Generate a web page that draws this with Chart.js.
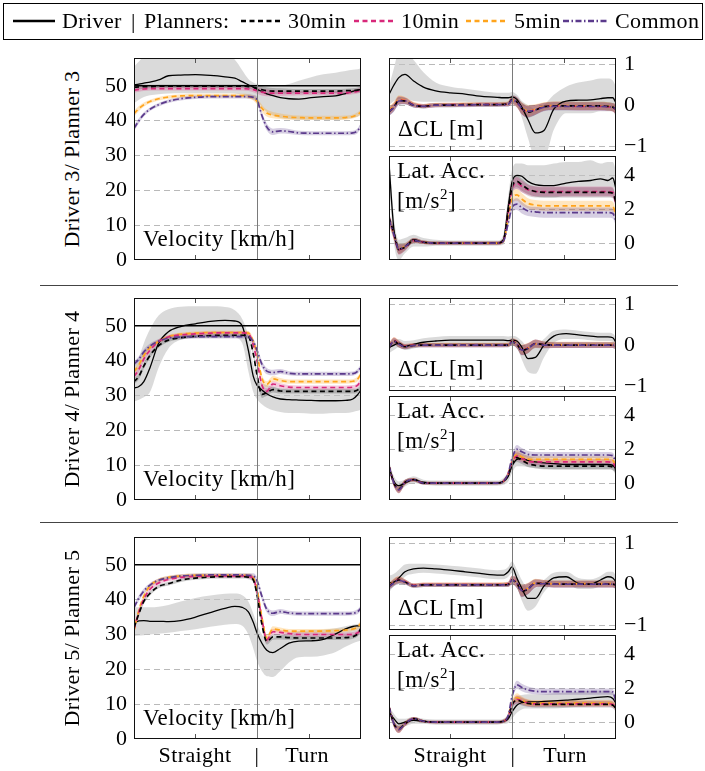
<!DOCTYPE html>
<html>
<head>
<meta charset="utf-8">
<script src="https://cdn.jsdelivr.net/npm/chart.js@4"></script>
<style>
body{margin:0;background:#fff;width:705px;height:771px;position:relative;overflow:hidden;font-family:'Liberation Serif','DejaVu Serif','Times New Roman',serif;color:#000}
canvas{position:absolute}
.t{position:absolute;font-size:22px;line-height:22px;white-space:nowrap;letter-spacing:0.4px}
.big{font-size:23px;letter-spacing:0.5px}
.c{text-align:center;width:120px}
.rot{position:absolute;width:240px;height:26px;line-height:26px;font-size:22px;text-align:center;transform:rotate(-90deg);white-space:nowrap;letter-spacing:0.4px}
.sep{position:absolute;left:40px;width:638px;height:1px;background:#444}
#legend{position:absolute;left:3px;top:3px;width:700px;height:37px;border:1px solid #000;box-sizing:border-box}
svg{position:absolute;overflow:visible}
</style>
</head>
<body>
<div id="legend"></div>
<div id="root"></div>
<script>
// sample positions along the route: 0..1 straight, 1..1.846 turn
const xPos = [0, 0.04, 0.08, 0.13, 0.2, 0.28, 0.38, 0.5, 0.62, 0.74, 0.82, 0.88, 0.93, 0.97, 1.0, 1.04, 1.08, 1.13, 1.19, 1.26, 1.34, 1.44, 1.54, 1.64, 1.72, 1.78, 1.82, 1.846];
const xMax = 1.846;
const xSplit = 1;
const xTicks = [0.5, 1.42];
const sectionLabels = ['Straight', '|', 'Turn'];
const rowLabels = ['Driver 3/ Planner 3', 'Driver 4/ Planner 4', 'Driver 5/ Planner 5'];
const seriesNames = ['Driver', '30min', '10min', '5min', 'Common'];
const velTicks = [0, 10, 20, 30, 40, 50];
const clTicks = [-1, 0, 1];
const latTicks = [0, 2, 4];
const speedLimit = [50, 50];

// Driver 3 / Planner 3
const v3Driver = [50.3, 50.5, 50.8, 51.1, 51.7, 52.9, 53.1, 53.2, 53.0, 52.6, 52.2, 51.2, 50.3, 49.6, 49.0, 48.4, 47.7, 47.2, 46.6, 46.3, 46.2, 46.6, 46.9, 47.1, 47.8, 48.4, 48.8, 49.0];
const v3DrvHi = [55.5, 57.0, 58.5, 59.0, 59.0, 59.0, 59.0, 59.0, 59.0, 59.0, 57.5, 54.5, 52.0, 51.0, 50.5, 50.2, 50.0, 50.0, 50.0, 50.5, 51.5, 52.5, 53.3, 53.8, 54.3, 54.6, 54.8, 55.0];
const v3DrvLo = [45.0, 46.0, 46.8, 47.3, 47.6, 47.8, 47.9, 47.9, 47.9, 47.9, 47.8, 47.5, 47.0, 46.5, 45.5, 44.0, 42.5, 41.5, 40.8, 40.5, 40.3, 40.3, 40.3, 40.3, 40.5, 40.8, 41.2, 41.8];
const v3Min30 = [49.6, 49.7, 49.8, 49.8, 49.9, 49.9, 49.9, 49.9, 49.9, 49.9, 49.9, 49.9, 49.8, 49.6, 49.3, 48.9, 48.6, 48.5, 48.5, 48.5, 48.5, 48.5, 48.5, 48.5, 48.6, 48.7, 48.8, 49.0];
const v3Min10 = [48.8, 49.0, 49.1, 49.2, 49.2, 49.2, 49.2, 49.2, 49.2, 49.2, 49.2, 49.2, 49.1, 48.9, 48.6, 48.2, 48.0, 47.9, 47.9, 47.9, 47.9, 47.9, 47.9, 47.9, 48.0, 48.2, 48.5, 48.8];
const v3Min5 = [42.0, 43.5, 44.6, 45.5, 46.3, 46.8, 47.1, 47.2, 47.2, 47.2, 47.2, 47.2, 47.0, 46.5, 45.6, 43.6, 42.2, 41.6, 41.3, 41.0, 40.9, 40.8, 40.8, 40.8, 40.9, 41.2, 41.8, 42.5];
const v3Common = [37.8, 40.0, 41.8, 43.3, 44.6, 45.6, 46.3, 46.7, 46.9, 46.9, 46.9, 46.9, 46.9, 46.7, 46.0, 41.5, 38.2, 36.8, 37.1, 36.9, 36.5, 36.4, 36.4, 36.4, 36.4, 36.5, 37.2, 38.6];
const v3Band = [0.8, 0.7, 0.6, 0.5, 0.5, 0.5, 0.5, 0.5, 0.5, 0.5, 0.5, 0.5, 0.6, 0.7, 0.9, 1.0, 1.0, 0.9, 0.8, 0.7, 0.6, 0.6, 0.6, 0.6, 0.6, 0.6, 0.7, 0.8];

const c3Driver = [0.26, 0.49, 0.67, 0.75, 0.59, 0.44, 0.35, 0.30, 0.27, 0.22, 0.20, 0.19, 0.18, 0.18, 0.20, 0.14, -0.05, -0.35, -0.68, -0.62, -0.10, 0.10, 0.12, 0.13, 0.16, 0.18, 0.18, 0.05];
const c3DrvHi = [0.45, 0.90, 1.30, 1.30, 1.10, 0.80, 0.55, 0.45, 0.40, 0.35, 0.32, 0.30, 0.30, 0.30, 0.32, 0.25, 0.10, 0.00, -0.10, 0.00, 0.25, 0.45, 0.55, 0.60, 0.65, 0.65, 0.60, 0.45];
const c3DrvLo = [0.00, 0.10, 0.15, 0.15, 0.10, 0.08, 0.08, 0.08, 0.08, 0.06, 0.06, 0.05, 0.05, 0.05, 0.08, 0.00, -0.30, -0.80, -1.30, -1.30, -0.60, -0.20, -0.20, -0.20, -0.15, -0.15, -0.15, -0.30];
const c3Min30 = [-0.17, -0.05, 0.11, 0.10, 0.00, -0.03, 0.00, 0.00, 0.01, 0.01, 0.01, 0.01, 0.02, 0.03, 0.14, 0.08, -0.08, -0.17, -0.12, -0.04, -0.02, -0.02, -0.02, -0.02, -0.02, -0.03, -0.05, -0.10];
const c3Min10 = [-0.15, -0.04, 0.12, 0.11, 0.01, -0.02, 0.00, 0.01, 0.01, 0.02, 0.02, 0.02, 0.02, 0.03, 0.13, 0.07, -0.09, -0.16, -0.11, -0.04, -0.02, -0.02, -0.03, -0.03, -0.03, -0.04, -0.06, -0.11];
const c3Min5 = [-0.13, -0.02, 0.14, 0.12, 0.02, -0.02, 0.01, 0.01, 0.02, 0.02, 0.02, 0.02, 0.03, 0.04, 0.12, 0.06, -0.07, -0.14, -0.10, -0.03, -0.01, -0.01, -0.02, -0.02, -0.02, -0.03, -0.05, -0.09];
const c3Common = [-0.16, -0.06, 0.10, 0.10, 0.00, -0.03, 0.00, 0.00, 0.00, 0.01, 0.01, 0.01, 0.01, 0.02, 0.12, 0.07, -0.08, -0.15, -0.12, -0.05, -0.03, -0.03, -0.03, -0.03, -0.03, -0.04, -0.05, -0.10];
const c3Band = [0.10, 0.10, 0.10, 0.08, 0.06, 0.05, 0.05, 0.05, 0.05, 0.05, 0.05, 0.05, 0.05, 0.06, 0.10, 0.12, 0.14, 0.14, 0.12, 0.10, 0.10, 0.10, 0.10, 0.10, 0.10, 0.10, 0.10, 0.12];

const l3Driver = [4.7, 0.8, -0.4, -0.2, 0.2, 0.05, 0.0, 0.0, 0.0, 0.0, 0.0, 0.0, 0.2, 2.2, 3.6, 4.0, 3.95, 3.65, 3.45, 3.4, 3.4, 3.55, 3.65, 3.7, 3.8, 3.7, 3.85, 3.2];
const l3DrvHi = [5.5, 1.5, 0.2, 0.3, 0.5, 0.3, 0.2, 0.15, 0.15, 0.15, 0.15, 0.15, 0.5, 2.8, 4.3, 4.7, 4.7, 4.6, 4.6, 4.6, 4.7, 4.8, 4.8, 4.9, 4.7, 4.8, 4.8, 4.3];
const l3DrvLo = [3.5, 0.0, -1.0, -0.6, -0.2, -0.2, -0.15, -0.15, -0.15, -0.15, -0.15, -0.15, -0.1, 1.5, 2.9, 3.2, 3.0, 2.8, 2.7, 2.7, 2.7, 2.8, 2.8, 2.8, 2.8, 2.8, 2.8, 2.3];
const l3Min30 = [1.5, 0.6, -0.35, -0.25, 0.15, 0.05, 0.0, 0.0, 0.0, 0.0, 0.0, 0.0, 0.15, 1.9, 3.3, 3.65, 3.45, 3.2, 3.05, 3.0, 3.0, 3.0, 3.0, 3.0, 3.0, 3.0, 2.95, 2.4];
const l3Min10 = [1.5, 0.5, -0.4, -0.25, 0.15, 0.05, 0.0, 0.0, 0.0, 0.0, 0.0, 0.0, 0.15, 1.8, 3.2, 3.55, 3.35, 3.15, 3.05, 3.05, 3.05, 3.05, 3.05, 3.05, 3.05, 3.05, 3.0, 2.3];
const l3Min5 = [1.4, 0.5, -0.35, -0.2, 0.15, 0.05, 0.0, 0.0, 0.0, 0.0, 0.0, 0.0, 0.1, 1.5, 2.6, 2.85, 2.6, 2.35, 2.25, 2.2, 2.2, 2.2, 2.2, 2.2, 2.2, 2.2, 2.15, 1.7];
const l3Common = [1.4, 0.5, -0.35, -0.2, 0.15, 0.05, 0.0, 0.0, 0.0, 0.0, 0.0, 0.0, 0.1, 1.2, 2.1, 2.3, 2.1, 1.9, 1.85, 1.8, 1.8, 1.8, 1.8, 1.8, 1.8, 1.8, 1.75, 1.3];
const l3Band = [0.3, 0.3, 0.3, 0.2, 0.15, 0.1, 0.1, 0.1, 0.1, 0.1, 0.1, 0.1, 0.1, 0.2, 0.3, 0.35, 0.35, 0.3, 0.3, 0.3, 0.3, 0.3, 0.3, 0.3, 0.3, 0.3, 0.3, 0.3];

// Driver 4 / Planner 4
const v4Driver = [32.1, 32.6, 34.0, 38.0, 45.0, 48.3, 49.8, 50.6, 51.3, 51.6, 51.4, 50.0, 43.0, 35.5, 33.0, 31.6, 30.5, 29.6, 29.0, 28.8, 28.7, 28.6, 28.5, 28.5, 28.6, 29.0, 30.3, 31.6];
const v4DrvHi = [38.3, 41.0, 45.0, 49.0, 53.0, 54.8, 55.5, 55.6, 55.6, 55.4, 54.5, 52.0, 47.0, 39.0, 35.0, 33.5, 33.0, 32.5, 32.0, 32.0, 32.0, 32.0, 32.0, 32.0, 32.0, 32.0, 32.0, 33.0];
const v4DrvLo = [28.3, 28.8, 29.5, 31.0, 38.0, 43.5, 46.0, 46.5, 46.5, 46.5, 46.5, 45.0, 37.0, 31.0, 29.0, 27.5, 26.5, 25.8, 25.3, 25.0, 25.0, 24.8, 24.8, 25.0, 25.0, 25.3, 25.6, 26.0];
const v4Min30 = [34.0, 35.5, 38.5, 41.5, 44.3, 45.9, 46.6, 47.0, 47.2, 47.3, 47.3, 47.3, 47.0, 42.0, 36.0, 30.3, 30.8, 31.7, 31.3, 31.2, 31.2, 31.2, 31.2, 31.2, 31.2, 31.2, 31.6, 32.8];
const v4Min10 = [35.5, 37.5, 40.5, 43.0, 45.5, 46.8, 47.4, 47.7, 47.9, 48.0, 48.0, 48.0, 47.8, 44.5, 40.0, 33.0, 31.2, 33.3, 32.8, 32.4, 32.3, 32.3, 32.3, 32.3, 32.3, 32.4, 33.0, 34.2];
const v4Min5 = [36.9, 38.8, 41.5, 43.8, 45.5, 46.9, 47.6, 47.9, 48.1, 48.1, 48.1, 48.1, 47.9, 45.5, 42.0, 35.0, 33.2, 34.8, 34.3, 34.0, 34.0, 34.0, 34.0, 34.0, 34.0, 34.1, 34.8, 36.2];
const v4Common = [39.0, 40.5, 42.5, 44.2, 45.6, 46.5, 46.8, 46.9, 46.9, 46.9, 46.9, 46.9, 46.8, 45.5, 43.0, 39.0, 37.0, 36.6, 36.9, 36.4, 36.2, 36.2, 36.2, 36.2, 36.2, 36.3, 37.0, 38.2];
const v4Band = [0.8, 0.8, 0.8, 0.7, 0.6, 0.5, 0.5, 0.5, 0.5, 0.5, 0.5, 0.5, 0.6, 0.9, 1.0, 1.0, 0.9, 0.8, 0.7, 0.6, 0.6, 0.6, 0.6, 0.6, 0.6, 0.6, 0.7, 0.8];

const c4Driver = [-0.06, 0.00, 0.05, -0.03, 0.02, 0.07, 0.10, 0.12, 0.12, 0.12, 0.12, 0.12, 0.12, 0.11, 0.12, 0.10, -0.05, -0.33, -0.30, 0.00, 0.22, 0.28, 0.25, 0.22, 0.20, 0.20, 0.18, 0.06];
const c4DrvHi = [0.08, 0.12, 0.15, 0.10, 0.12, 0.17, 0.20, 0.22, 0.22, 0.22, 0.22, 0.22, 0.22, 0.21, 0.22, 0.20, 0.10, -0.05, 0.00, 0.15, 0.35, 0.38, 0.35, 0.32, 0.30, 0.30, 0.28, 0.20];
const c4DrvLo = [-0.20, -0.12, -0.05, -0.12, -0.08, -0.03, 0.00, 0.02, 0.02, 0.02, 0.02, 0.02, 0.02, 0.01, 0.00, -0.05, -0.35, -0.65, -0.70, -0.30, 0.05, 0.15, 0.15, 0.12, 0.10, 0.10, 0.08, -0.10];
const c4Min30 = [-0.05, 0.10, 0.02, -0.04, -0.01, 0.00, 0.00, 0.00, 0.00, 0.00, 0.00, 0.00, 0.00, 0.00, 0.08, 0.02, -0.13, -0.08, 0.04, 0.01, 0.00, 0.00, 0.00, 0.00, 0.00, 0.00, 0.00, -0.03];
const c4Min10 = [-0.04, 0.11, 0.03, -0.03, 0.00, 0.00, 0.00, 0.00, 0.00, 0.00, 0.00, 0.00, 0.00, 0.01, 0.09, 0.03, -0.12, -0.07, 0.04, 0.01, 0.00, 0.00, 0.00, 0.00, 0.00, 0.00, 0.00, -0.02];
const c4Min5 = [-0.03, 0.11, 0.03, -0.03, 0.00, 0.01, 0.01, 0.01, 0.01, 0.01, 0.01, 0.01, 0.01, 0.01, 0.09, 0.03, -0.11, -0.07, 0.03, 0.01, 0.01, 0.01, 0.01, 0.01, 0.01, 0.01, 0.01, -0.02];
const c4Common = [-0.05, 0.09, 0.02, -0.04, -0.01, 0.00, 0.00, 0.00, 0.00, 0.00, 0.00, 0.00, 0.00, 0.00, 0.07, 0.02, -0.12, -0.08, 0.03, 0.00, 0.00, 0.00, 0.00, 0.00, 0.00, 0.00, 0.00, -0.03];
const c4Band = [0.08, 0.08, 0.08, 0.06, 0.05, 0.05, 0.05, 0.05, 0.05, 0.05, 0.05, 0.05, 0.05, 0.05, 0.08, 0.10, 0.12, 0.12, 0.10, 0.08, 0.07, 0.07, 0.07, 0.07, 0.07, 0.07, 0.07, 0.08];

const l4Driver = [0.96, 0.10, -0.15, 0.00, 0.20, 0.05, 0.00, 0.00, 0.00, 0.00, 0.00, 0.00, 0.10, 0.40, 1.00, 1.40, 1.45, 1.35, 1.25, 1.20, 1.15, 1.10, 1.10, 1.10, 1.10, 1.10, 1.05, 0.80];
const l4DrvHi = [1.3, 0.4, 0.1, 0.2, 0.4, 0.2, 0.15, 0.15, 0.15, 0.15, 0.15, 0.15, 0.3, 0.7, 1.4, 1.8, 1.75, 1.6, 1.5, 1.45, 1.45, 1.45, 1.45, 1.45, 1.45, 1.45, 1.4, 1.2];
const l4DrvLo = [0.6, -0.2, -0.45, -0.2, 0.0, -0.1, -0.15, -0.15, -0.15, -0.15, -0.15, -0.15, -0.1, 0.1, 0.6, 1.0, 1.0, 0.95, 0.9, 0.85, 0.8, 0.8, 0.8, 0.8, 0.8, 0.8, 0.75, 0.45];
const l4Min30 = [1.00, 0.00, -0.35, 0.05, 0.20, 0.00, 0.00, 0.00, 0.00, 0.00, 0.00, 0.00, 0.10, 0.50, 1.10, 1.50, 1.35, 1.15, 1.05, 1.00, 1.00, 1.00, 1.00, 1.00, 1.00, 1.00, 0.95, 0.75];
const l4Min10 = [1.00, 0.00, -0.40, 0.05, 0.20, 0.00, 0.00, 0.00, 0.00, 0.00, 0.00, 0.00, 0.10, 0.55, 1.20, 1.60, 1.45, 1.30, 1.25, 1.25, 1.25, 1.25, 1.25, 1.25, 1.25, 1.25, 1.20, 0.90];
const l4Min5 = [1.00, 0.00, -0.40, 0.05, 0.20, 0.00, 0.00, 0.00, 0.00, 0.00, 0.00, 0.00, 0.10, 0.55, 1.25, 1.70, 1.55, 1.42, 1.40, 1.40, 1.40, 1.40, 1.40, 1.40, 1.40, 1.40, 1.35, 1.00];
const l4Common = [1.00, 0.00, -0.40, 0.05, 0.20, 0.00, 0.00, 0.00, 0.00, 0.00, 0.00, 0.00, 0.10, 0.60, 1.45, 2.00, 1.85, 1.70, 1.66, 1.66, 1.66, 1.66, 1.66, 1.66, 1.66, 1.66, 1.62, 1.20];
const l4Band = [0.2, 0.2, 0.2, 0.15, 0.1, 0.08, 0.08, 0.08, 0.08, 0.08, 0.08, 0.08, 0.1, 0.15, 0.2, 0.25, 0.22, 0.2, 0.18, 0.18, 0.18, 0.18, 0.18, 0.18, 0.18, 0.18, 0.18, 0.2];

// Driver 5 / Planner 5
const v5Driver = [33.3, 33.9, 34.0, 33.8, 33.8, 33.7, 34.0, 35.0, 36.3, 37.5, 38.1, 37.8, 36.5, 33.5, 30.5, 27.5, 25.5, 24.8, 26.0, 27.5, 28.1, 28.2, 28.6, 30.2, 31.6, 32.3, 32.5, 32.6];
const v5DrvHi = [37.8, 37.8, 37.8, 37.8, 38.0, 38.5, 39.5, 40.5, 41.2, 41.7, 41.8, 41.3, 39.5, 36.0, 33.0, 30.0, 28.5, 28.8, 29.8, 30.5, 31.0, 31.3, 31.4, 31.8, 32.4, 32.8, 33.0, 33.2];
const v5DrvLo = [29.5, 29.7, 29.8, 30.0, 30.2, 30.5, 31.0, 31.5, 32.2, 32.8, 33.0, 32.5, 30.0, 26.0, 22.5, 19.5, 18.0, 17.8, 19.5, 22.0, 23.5, 23.6, 24.0, 25.0, 26.5, 27.5, 28.0, 28.2];
const v5Min30 = [31.9, 36.0, 39.5, 41.8, 43.8, 44.6, 45.6, 46.2, 46.5, 46.6, 46.6, 46.6, 46.5, 45.7, 41.5, 33.0, 28.0, 29.3, 29.3, 29.1, 29.0, 29.0, 29.0, 29.0, 29.1, 29.4, 30.2, 31.8];
const v5Min10 = [31.5, 36.5, 40.2, 43.0, 44.8, 45.8, 46.4, 46.7, 46.8, 46.8, 46.8, 46.8, 46.7, 46.0, 42.5, 34.5, 28.5, 30.8, 30.6, 30.3, 30.0, 30.0, 30.0, 30.0, 30.0, 30.1, 30.5, 31.2];
const v5Min5 = [31.0, 37.0, 41.0, 44.0, 45.6, 46.4, 46.8, 47.0, 47.0, 47.0, 47.0, 47.0, 46.9, 46.2, 43.0, 35.0, 29.0, 31.6, 31.3, 31.0, 31.0, 31.0, 31.0, 31.1, 31.3, 31.6, 32.2, 33.2];
const v5Common = [37.8, 40.5, 42.5, 44.2, 45.6, 46.3, 46.8, 47.0, 47.1, 47.1, 47.1, 47.1, 47.0, 46.8, 45.5, 41.0, 37.2, 36.1, 36.6, 36.2, 36.0, 36.0, 36.0, 36.0, 36.0, 36.1, 36.6, 37.6];
const v5Band = [0.8, 0.8, 0.7, 0.6, 0.5, 0.5, 0.5, 0.5, 0.5, 0.5, 0.5, 0.5, 0.6, 0.8, 1.0, 1.0, 0.9, 0.8, 0.7, 0.6, 0.6, 0.6, 0.6, 0.6, 0.6, 0.6, 0.7, 0.8];

const c5Driver = [0.02, 0.05, 0.15, 0.30, 0.37, 0.39, 0.37, 0.34, 0.30, 0.26, 0.23, 0.22, 0.22, 0.30, 0.42, 0.15, -0.10, -0.35, -0.35, -0.05, 0.15, 0.18, 0.02, 0.00, 0.10, 0.18, 0.15, 0.05];
const c5DrvHi = [0.20, 0.25, 0.35, 0.48, 0.50, 0.50, 0.48, 0.45, 0.42, 0.38, 0.35, 0.34, 0.35, 0.42, 0.55, 0.35, 0.10, -0.10, -0.10, 0.10, 0.28, 0.30, 0.15, 0.12, 0.20, 0.30, 0.30, 0.20];
const c5DrvLo = [-0.20, -0.05, 0.00, 0.18, 0.25, 0.28, 0.26, 0.23, 0.20, 0.16, 0.13, 0.12, 0.12, 0.18, 0.28, -0.05, -0.40, -0.65, -0.55, -0.20, 0.00, 0.02, -0.12, -0.12, -0.05, 0.00, -0.05, -0.15];
const c5Min30 = [-0.06, 0.04, 0.10, 0.05, -0.04, -0.02, -0.02, -0.02, -0.02, -0.02, -0.02, -0.02, -0.02, -0.01, 0.10, 0.02, -0.18, -0.12, 0.02, 0.02, 0.00, 0.00, 0.00, 0.00, 0.00, 0.00, 0.00, -0.03];
const c5Min10 = [-0.05, 0.05, 0.11, 0.06, -0.03, -0.01, -0.01, -0.01, -0.01, -0.01, -0.01, -0.01, -0.01, 0.00, 0.11, 0.03, -0.17, -0.11, 0.02, 0.02, 0.00, 0.00, 0.00, 0.00, 0.00, 0.00, 0.00, -0.02];
const c5Min5 = [-0.04, 0.06, 0.11, 0.06, -0.03, -0.01, -0.01, -0.01, -0.01, -0.01, -0.01, -0.01, 0.00, 0.00, 0.10, 0.03, -0.15, -0.10, 0.03, 0.02, 0.01, 0.01, 0.01, 0.01, 0.01, 0.01, 0.01, -0.02];
const c5Common = [-0.06, 0.03, 0.09, 0.05, -0.04, -0.02, -0.02, -0.02, -0.02, -0.02, -0.02, -0.02, -0.02, -0.01, 0.09, 0.02, -0.16, -0.11, 0.01, 0.01, 0.00, 0.00, 0.00, 0.00, 0.00, 0.00, 0.00, -0.03];
const c5Band = [0.08, 0.08, 0.08, 0.06, 0.05, 0.05, 0.05, 0.05, 0.05, 0.05, 0.05, 0.05, 0.05, 0.06, 0.10, 0.12, 0.14, 0.13, 0.10, 0.08, 0.08, 0.08, 0.08, 0.08, 0.08, 0.08, 0.08, 0.08];

const l5Driver = [0.6, 0.2, -0.1, 0.0, 0.1, 0.05, 0.0, 0.0, 0.0, 0.0, 0.0, 0.0, 0.05, 0.2, 0.6, 1.0, 1.15, 1.2, 1.2, 1.22, 1.25, 1.3, 1.35, 1.42, 1.48, 1.5, 1.4, 1.1];
const l5DrvHi = [0.9, 0.5, 0.2, 0.2, 0.3, 0.2, 0.15, 0.15, 0.15, 0.15, 0.15, 0.15, 0.2, 0.5, 1.1, 1.5, 1.6, 1.65, 1.65, 1.65, 1.7, 1.75, 1.8, 1.85, 1.85, 1.85, 1.75, 1.45];
const l5DrvLo = [0.3, -0.2, -0.4, -0.25, -0.1, -0.1, -0.15, -0.15, -0.15, -0.15, -0.15, -0.15, -0.1, -0.05, 0.2, 0.55, 0.75, 0.8, 0.8, 0.8, 0.8, 0.85, 0.9, 0.95, 1.0, 1.05, 1.0, 0.75];
const l5Min30 = [0.90, -0.10, -0.40, -0.10, 0.20, 0.05, 0.00, 0.00, 0.00, 0.00, 0.00, 0.00, 0.05, 0.30, 1.00, 1.30, 1.20, 1.10, 1.05, 1.05, 1.05, 1.05, 1.05, 1.05, 1.05, 1.05, 1.00, 0.80];
const l5Min10 = [0.90, -0.10, -0.45, -0.10, 0.20, 0.05, 0.00, 0.00, 0.00, 0.00, 0.00, 0.00, 0.05, 0.30, 1.00, 1.35, 1.25, 1.12, 1.08, 1.08, 1.08, 1.08, 1.08, 1.08, 1.08, 1.08, 1.05, 0.85];
const l5Min5 = [0.90, -0.10, -0.45, -0.10, 0.20, 0.05, 0.00, 0.00, 0.00, 0.00, 0.00, 0.00, 0.05, 0.35, 1.10, 1.45, 1.30, 1.15, 1.12, 1.12, 1.12, 1.12, 1.12, 1.12, 1.12, 1.12, 1.08, 0.85];
const l5Common = [0.90, -0.10, -0.45, -0.10, 0.20, 0.05, 0.00, 0.00, 0.00, 0.00, 0.00, 0.00, 0.05, 0.40, 1.50, 2.20, 2.05, 1.90, 1.82, 1.80, 1.80, 1.80, 1.80, 1.80, 1.80, 1.80, 1.78, 1.20];
const l5Band = [0.2, 0.2, 0.2, 0.15, 0.1, 0.08, 0.08, 0.08, 0.08, 0.08, 0.08, 0.08, 0.1, 0.15, 0.2, 0.25, 0.22, 0.2, 0.18, 0.18, 0.18, 0.18, 0.18, 0.18, 0.18, 0.18, 0.18, 0.2];

// styles
const styles = [
  {color: '#000000', dash: [], width: 1.3, band: 'rgba(195,195,195,0.62)'},
  {color: '#000000', dash: [5, 3.5], width: 1.7, band: 'rgba(70,70,70,0.28)'},
  {color: '#d8287a', dash: [5, 3.5], width: 1.7, band: 'rgba(216,40,122,0.25)'},
  {color: '#ffa41c', dash: [5, 3.5], width: 1.7, band: 'rgba(255,164,28,0.28)'},
  {color: '#5b3a8c', dash: [6, 2.5, 1.5, 2.5], width: 1.7, band: 'rgba(91,58,140,0.25)'}
];
const FONT = "'Liberation Serif', 'DejaVu Serif', serif";
const ROW_DY = [0, 240, 479];
const PAD = 26;

const rows = [
  {vel: [v3Driver, v3Min30, v3Min10, v3Min5, v3Common, v3DrvHi, v3DrvLo, v3Band],
   cl: [c3Driver, c3Min30, c3Min10, c3Min5, c3Common, c3DrvHi, c3DrvLo, c3Band],
   lat: [l3Driver, l3Min30, l3Min10, l3Min5, l3Common, l3DrvHi, l3DrvLo, l3Band]},
  {vel: [v4Driver, v4Min30, v4Min10, v4Min5, v4Common, v4DrvHi, v4DrvLo, v4Band],
   cl: [c4Driver, c4Min30, c4Min10, c4Min5, c4Common, c4DrvHi, c4DrvLo, c4Band],
   lat: [l4Driver, l4Min30, l4Min10, l4Min5, l4Common, l4DrvHi, l4DrvLo, l4Band]},
  {vel: [v5Driver, v5Min30, v5Min10, v5Min5, v5Common, v5DrvHi, v5DrvLo, v5Band],
   cl: [c5Driver, c5Min30, c5Min10, c5Min5, c5Common, c5DrvHi, c5DrvLo, c5Band],
   lat: [l5Driver, l5Min30, l5Min10, l5Min5, l5Common, l5DrvHi, l5DrvLo, l5Band]}
];

const pts = ys => ys.map((y, i) => ({x: xPos[i], y: y}));
const shifted = (ys, hw, s) => ys.map((y, i) => ({x: xPos[i], y: y + s * hw[i]}));

const framePlugin = {
  id: 'frame',
  afterDatasetsDraw(chart) {
    const {ctx, chartArea: a, scales: {x}} = chart;
    ctx.save();
    ctx.lineWidth = 1;
    const sx = Math.round(x.getPixelForValue(xSplit)) + 0.5;
    ctx.strokeStyle = '#7a7a7a';
    ctx.beginPath(); ctx.moveTo(sx, a.top); ctx.lineTo(sx, a.bottom); ctx.stroke();
    ctx.strokeStyle = '#555';
    ctx.beginPath();
    xTicks.forEach(v => {
      const px = Math.round(x.getPixelForValue(v)) + 0.5;
      ctx.moveTo(px, a.top); ctx.lineTo(px, a.top + 5);
      ctx.moveTo(px, a.bottom); ctx.lineTo(px, a.bottom - 5);
    });
    ctx.stroke();
    ctx.strokeStyle = '#111';
    ctx.strokeRect(Math.round(a.left) + 0.5, Math.round(a.top) + 0.5, Math.round(a.right - a.left) - 1, Math.round(a.bottom - a.top) - 1);
    ctx.restore();
  }
};

// area = desired chart area {l, t, r, b} in page pixels
function makePanel(area, arr, opt) {
  const cv = document.createElement('canvas');
  const left = opt.side === 'left' ? area.l - opt.axisW : area.l - 9;
  const right = opt.side === 'left' ? area.r + 9 : area.r + opt.axisW;
  cv.width = right - left; cv.height = area.b - area.t + 2 * PAD;
  cv.style.left = left + 'px'; cv.style.top = (area.t - PAD) + 'px';
  document.getElementById('root').appendChild(cv);
  const pad = opt.side === 'left' ? {left: 0, right: 9, top: PAD, bottom: PAD} : {left: 9, right: 0, top: PAD, bottom: PAD};
  const [drv, m30, m10, m5, com, hi, lo, hw] = arr;
  const lines = [drv, m30, m10, m5, com];
  const ds = [];
  ds.push({data: pts(hi), fill: '+1', backgroundColor: styles[0].band, borderWidth: 0, order: 20});
  ds.push({data: pts(lo), fill: false, borderWidth: 0, order: 20});
  for (let k = 1; k < 5; k++) {
    ds.push({data: shifted(lines[k], hw, 1), fill: '+1', backgroundColor: styles[k].band, borderWidth: 0, order: 16 - k});
    ds.push({data: shifted(lines[k], hw, -1), fill: false, borderWidth: 0, order: 16 - k});
  }
  if (opt.limit) {
    ds.push({data: [{x: 0, y: speedLimit[0]}, {x: xMax, y: speedLimit[1]}], borderColor: '#000', borderWidth: 1.5, fill: false, order: 9});
  }
  const lineOrder = [5, 2, 3, 4, 1];
  lines.forEach((ys, k) => {
    ds.push({label: seriesNames[k], data: pts(ys), borderColor: styles[k].color, borderDash: styles[k].dash,
      borderWidth: styles[k].width, fill: false, order: lineOrder[k]});
  });
  new Chart(cv, {
    type: 'line',
    data: {datasets: ds},
    plugins: [framePlugin],
    options: {
      animation: false, responsive: false, devicePixelRatio: 1,
      layout: {padding: pad},
      plugins: {legend: {display: false}, tooltip: {enabled: false}},
      elements: {point: {radius: 0}, line: {cubicInterpolationMode: 'monotone'}},
      scales: {
        x: {type: 'linear', min: 0, max: xMax, display: false},
        y: {
          type: 'linear', position: opt.side, min: opt.min, max: opt.max,
          afterFit: s => { s.width = opt.axisW; },
          afterBuildTicks: s => { s.ticks = opt.ticks.map(v => ({value: v})); },
          ticks: {font: {family: FONT, size: 22}, color: '#000', padding: opt.tickPad,
            callback: v => (v < 0 ? '\u2212' + Math.abs(v) : '' + v)},
          grid: {drawTicks: false, lineWidth: 1,
            color: c => (opt.grid.includes(c.tick.value) ? '#b9b9b9' : 'rgba(0,0,0,0)')},
          border: {display: false, dash: [6, 4]}
        }
      }
    }
  });
}

function addText(txt, x, y, cls, html) {
  const d = document.createElement('div');
  d.className = 't' + (cls ? ' ' + cls : '');
  if (html) d.innerHTML = txt; else d.textContent = txt;
  d.style.left = x + 'px'; d.style.top = y + 'px';
  document.body.appendChild(d);
  return d;
}

rows.forEach((r, i) => {
  const dy = ROW_DY[i];
  makePanel({l: 134, r: 361, t: 58 + dy, b: 260 + dy}, r.vel,
    {side: 'left', min: 0, max: 58, ticks: velTicks, grid: [10, 20, 30, 40], limit: true, axisW: 44, tickPad: 7});
  makePanel({l: 389, r: 616, t: 58 + dy, b: 151 + dy}, r.cl,
    {side: 'right', min: -1.12, max: 1.15, ticks: clTicks, grid: clTicks, limit: false, axisW: 64, tickPad: 8});
  makePanel({l: 389, r: 616, t: 156 + dy, b: 260 + dy}, r.lat,
    {side: 'right', min: -1.0, max: 5.15, ticks: latTicks, grid: latTicks, limit: false, axisW: 64, tickPad: 8});

  addText('Velocity [km/h]', 143, 228 + dy, 'big');
  addText('\u0394CL [m]', 398, 118 + dy, 'big');
  addText('Lat. Acc.', 397, 160 + dy, 'big');
  addText('[m/s<sup style="font-size:15px;line-height:0">2</sup>]', 397, 190 + dy, 'big', true);

  const rl = document.createElement('div');
  rl.className = 'rot';
  rl.textContent = rowLabels[i];
  rl.style.left = (72 - 120) + 'px';
  rl.style.top = (159 + dy - 13) + 'px';
  document.body.appendChild(rl);
});

[285, 522].forEach(y => {
  const s = document.createElement('div');
  s.className = 'sep'; s.style.top = y + 'px';
  document.body.appendChild(s);
});

// section labels under bottom row
[[195, 257, 307], [450, 513, 565]].forEach(cx => {
  cx.forEach((x, k) => addText(sectionLabels[k], x - 60, 744, 'c'));
});

// legend
const legendItems = [
  {k: 0, x1: 13, x2: 55, tx: 62, txt: 'Driver'},
  {k: -1, tx: 131, txt: '|'},
  {k: -1, tx: 144, txt: 'Planners:'},
  {k: 1, x1: 241, x2: 283, tx: 288, txt: seriesNames[1]},
  {k: 2, x1: 354, x2: 396, tx: 401, txt: seriesNames[2]},
  {k: 3, x1: 466, x2: 508, tx: 514, txt: seriesNames[3]},
  {k: 4, x1: 563, x2: 609, tx: 615, txt: seriesNames[4]}
];
legendItems.forEach(it => {
  if (it.k >= 0) {
    const st = styles[it.k];
    const svg = document.createElementNS('http://www.w3.org/2000/svg', 'svg');
    svg.setAttribute('width', it.x2 - it.x1); svg.setAttribute('height', 6);
    svg.style.left = it.x1 + 'px'; svg.style.top = '18px';
    const ln = document.createElementNS('http://www.w3.org/2000/svg', 'line');
    ln.setAttribute('x1', 0); ln.setAttribute('x2', it.x2 - it.x1);
    ln.setAttribute('y1', 3); ln.setAttribute('y2', 3);
    ln.setAttribute('stroke', st.color);
    ln.setAttribute('stroke-width', it.k === 0 ? 2.6 : 2.4);
    if (st.dash.length) ln.setAttribute('stroke-dasharray', st.dash.join(' '));
    svg.appendChild(ln);
    document.body.appendChild(svg);
  }
  addText(it.txt, it.tx, 10);
});
</script>
</body>
</html>
